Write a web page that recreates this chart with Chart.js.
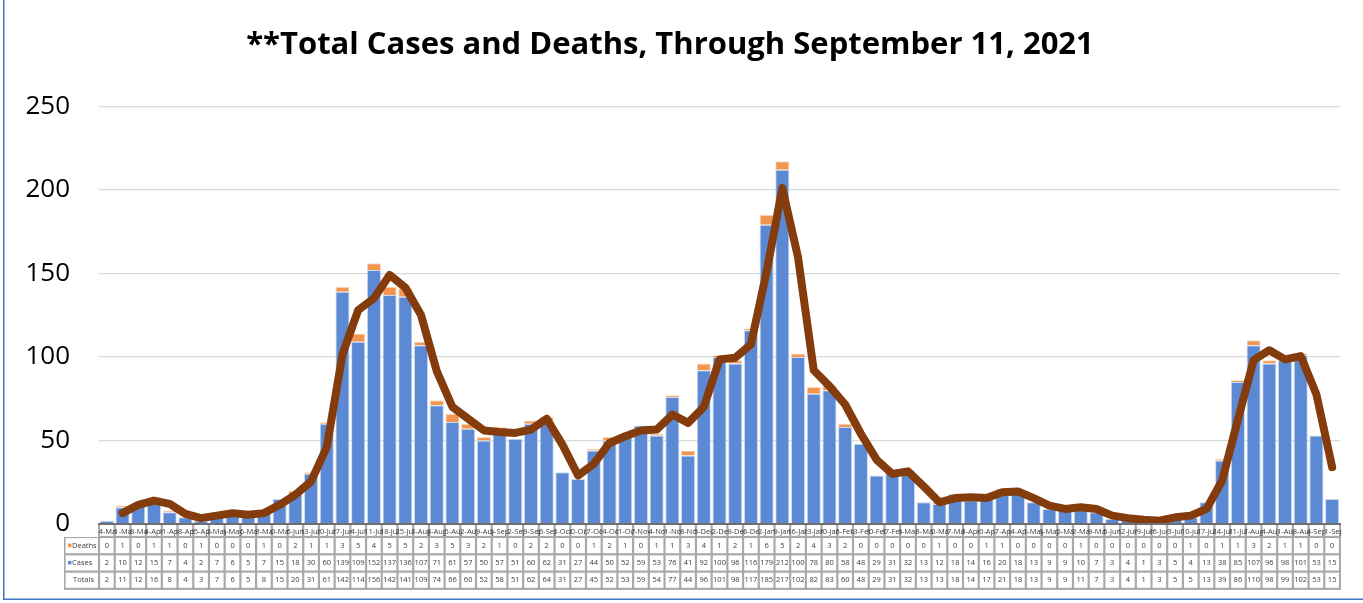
<!DOCTYPE html>
<html>
<head>
<meta charset="utf-8">
<script src="https://cdn.jsdelivr.net/npm/chart.js@4.4.0/dist/chart.umd.min.js"></script>
<style>
html,body{margin:0;padding:0;background:#fff;}
#wrap{position:relative;width:1363px;height:603px;}
canvas{display:block;}
</style>
</head>
<body>
<div id="wrap"><canvas id="c" width="1363" height="603"></canvas></div>
<script>
const labels = ["14-Mar","21-Mar","28-Mar","4-Apr","11-Apr","18-Apr","25-Apr","2-May","9-May","16-May","23-May","30-May","6-Jun","13-Jun","20-Jun","27-Jun","4-Jul","11-Jul","18-Jul","25-Jul","1-Aug","8-Aug","15-Aug","22-Aug","29-Aug","5-Sep","12-Sep","19-Sep","26-Sep","3-Oct","10-Oct","17-Oct","24-Oct","31-Oct","7-Nov","14-Nov","21-Nov","28-Nov","5-Dec","12-Dec","19-Dec","26-Dec","2-Jan","9-Jan","16-Jan","23-Jan","30-Jan","6-Feb","13-Feb","20-Feb","27-Feb","6-Mar","13-Mar","20-Mar","27-Mar","3-Apr","10-Apr","17-Apr","24-Apr","1-May","8-May","15-May","22-May","29-May","5-Jun","12-Jun","19-Jun","26-Jun","3-Jul","10-Jul","17-Jul","24-Jul","31-Jul","7-Aug","14-Aug","21-Aug","28-Aug","4-Sep","11-Sep"];
const deaths = [0,1,0,1,1,0,1,0,0,0, 1,0,2,1,1,3,5,4,5,5,2,3,5,3, 2,1,0,2,2,0,0,1,2,1,0,1,1, 3,4,1,2,1,6,5,2,4,3,2,0,0,0, 0,0,1,0,0,1,1,0,0,0,0,1,0, 0,0,0,0,0,1,0,1,1,3,2,1,1,0,0];
const cases = [2,10,12,15,7,4,2,7,6,5, 7,15,18,30,60,139,109,152,137,136,107,71,61,57, 50,57,51,60,62,31,27,44,50,52,59,53,76, 41,92,100,96,116,179,212,100,78,80,58,48,29,31, 32,13,12,18,14,16,20,18,13,9,9,10,7, 3,4,1,3,5,4,13,38,85,107,96,98,101,53,15];
const totals = [2,11,12,16,8,4,3,7,6,5, 8,15,20,31,61,142,114,156,142,141,109,74,66,60, 52,58,51,62,64,31,27,45,52,53,59,54,77, 44,96,101,98,117,185,217,102,82,83,60,48,29,31, 32,13,13,18,14,17,21,18,13,9,9,11,7, 3,4,1,3,5,5,13,39,86,110,98,99,102,53,15];
const trend = [null,6.5,11.5,14,12,6,3.5,5,6.5,5.5, 6.5,11.5,17.5,25.5,46,101.5,128,135,149,141.5,125,91.5,70,63, 56,55,54.5,56.5,63,47.5,29,36,48.5,52.5,56,56.5,65.5, 60.5,70,98.5,99.5,107.5,151,201,159.5,92,82.5,71.5,54,38.5,30, 31.5,22.5,13,15.5,16,15.5,19,19.5,15.5,11,9,10,9, 5,3.5,2.5,2,4,5,9,26,62.5,98,104,98.5,100.5,77.5,34];
const yTicks = [0,50,100,150,200,250];
const titleText = "**Total Cases and Deaths, Through September 11, 2021";

const COL_BLUE = '#5B89D3';
const COL_ORANGE = '#F2954F';

const tablePlugin = {
  id: 'dataTable',
  afterDraw(chart) {
    const ctx = chart.ctx;
    const ca = chart.chartArea;
    const xs = chart.scales.x;
    const n = labels.length;
    const cw = (ca.right - ca.left) / n;
    const hTop = ca.bottom, hBot = hTop + 13;
    const rows = [
      {name:'Deaths', vals:deaths, sw:COL_ORANGE},
      {name:'Cases', vals:cases, sw:COL_BLUE},
      {name:'Totals', vals:totals, sw:null}
    ];
    const rowH = 17.3;
    const tBot = hBot + rowH*3;
    const leftX = 64;
    ctx.save();
    ctx.fillStyle = '#a9a9a9';
    ctx.fillRect(ca.left - 1, hTop, ca.right - ca.left + 2, tBot - hTop + 1);
    ctx.fillRect(leftX, hBot, ca.left - leftX, tBot - hBot + 1);
    ctx.fillStyle = '#ffffff';
    const g = 1.1;
    for (let i = 0; i < n; i++) {
      const x0 = ca.left + i*cw;
      ctx.fillRect(x0 + g, hTop + 1, cw - 2*g, hBot - hTop - 1 - g);
    }
    for (let r = 0; r < 3; r++) {
      const y0 = hBot + r*rowH;
      ctx.fillRect(leftX + g + 0.5, y0 + g, ca.left - leftX - 2*g - 0.5, rowH - 2*g);
      for (let i = 0; i < n; i++) {
        const x0 = ca.left + i*cw;
        ctx.fillRect(x0 + g, y0 + g, cw - 2*g, rowH - 2*g);
      }
    }
    ctx.fillStyle = '#6f6f6f';
    ctx.fillRect(ca.left - 1, hTop - 1, ca.right - ca.left + 2, 2);
    ctx.font = '7.5px "Open Sans"';
    ctx.fillStyle = '#404040';
    ctx.textAlign = 'center';
    ctx.textBaseline = 'middle';
    for (let i = 0; i < n; i++) {
      const cx = xs.getPixelForValue(i);
      ctx.save();
      ctx.beginPath();
      ctx.rect(cx - cw/2 - 1.5, hTop + 1, cw + 3, hBot - hTop);
      ctx.clip();
      ctx.fillText(labels[i], cx, (hTop + hBot)/2 + 1);
      ctx.restore();
    }
    rows.forEach((row, r) => {
      const cy = hBot + r*rowH + rowH/2;
      ctx.textAlign = 'left';
      if (row.sw) {
        ctx.fillStyle = row.sw;
        ctx.fillRect(68, cy - 2, 3.5, 3.5);
        ctx.fillStyle = '#404040';
        ctx.fillText(row.name, 72, cy);
      } else {
        ctx.fillStyle = '#404040';
        ctx.fillText(row.name, 73, cy);
      }
      ctx.textAlign = 'center';
      for (let i = 0; i < n; i++) {
        ctx.fillText(String(row.vals[i]), xs.getPixelForValue(i), cy);
      }
    });
    ctx.fillStyle = '#4472C4';
    ctx.fillRect(3, 0, 1.5, 600);
    ctx.fillRect(3, 598.5, 1360, 1.5);
    ctx.restore();
  }
};

new Chart(document.getElementById('c'), {
  data: {
    labels: labels,
    datasets: [
      {type:'line', label:'Trend', data: trend, stack:'trend', order:0,
       borderColor:'#843C0C', borderWidth:8, pointRadius:0, tension:0,
       borderCapStyle:'round', borderJoinStyle:'round', fill:false, spanGaps:false},
      {type:'bar', label:'Cases', data: cases, stack:'bars', order:1,
       backgroundColor: COL_BLUE, borderColor:'rgba(200,215,240,0.9)', borderWidth:1,
       barPercentage:0.9, categoryPercentage:1},
      {type:'bar', label:'Deaths', data: deaths, stack:'bars', order:1,
       backgroundColor: COL_ORANGE, borderColor:'rgba(250,215,190,0.9)', borderWidth:1,
       barPercentage:0.9, categoryPercentage:1}
    ]
  },
  options: {
    responsive:false,
    animation:false,
    layout:{padding:{left:0, right:23, top:0, bottom:79}},
    plugins:{
      legend:{display:false},
      tooltip:{enabled:false},
      title:{display:true, text:titleText, color:'#000',
        font:{family:'"Open Sans"', size:31, weight:'bold'},
        padding:{top:27, bottom:42}}
    },
    scales:{
      x:{display:false, stacked:true, offset:true},
      y:{stacked:true, min:0, max:250,
        afterFit:(s)=>{ s.width = 99; },
        afterBuildTicks:(s)=>{ s.ticks = yTicks.map(v=>({value:v})); },
        ticks:{color:'#000', font:{family:'"Open Sans"', size:26}, padding:29},
        grid:{drawTicks:false, color:(c)=> c.tick && c.tick.value===0 ? 'rgba(0,0,0,0)' : '#d9d9d9', lineWidth:1.3},
        border:{display:false}
      }
    }
  },
  plugins:[tablePlugin]
});
</script>
</body>
</html>
